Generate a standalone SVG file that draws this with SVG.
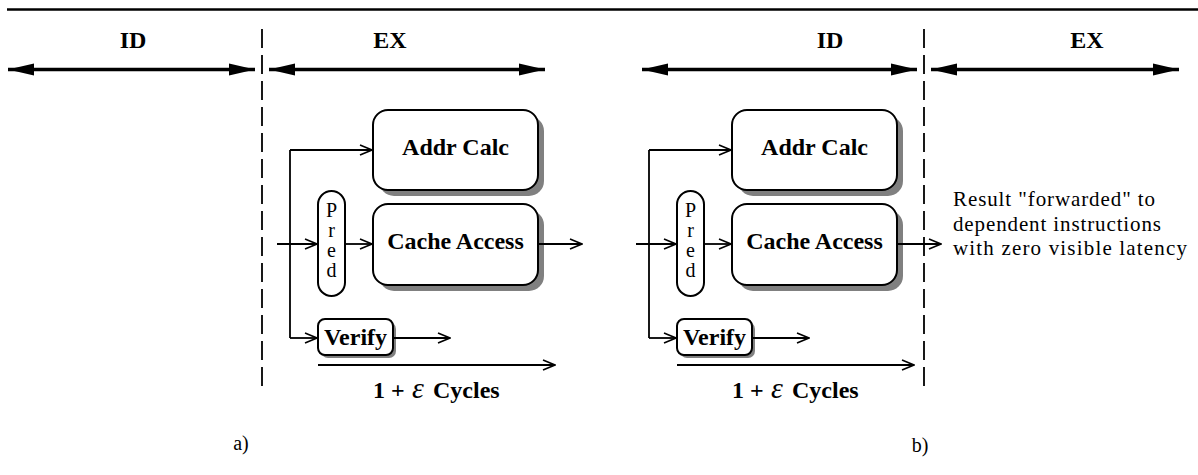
<svg xmlns="http://www.w3.org/2000/svg" width="1198" height="475" viewBox="0 0 1198 475">
<defs>
<marker id="open" markerUnits="userSpaceOnUse" markerWidth="14" markerHeight="12" refX="13" refY="6" orient="auto">
<path d="M1,1 L13,6 L1,11" fill="none" stroke="#000" stroke-width="1.6"/>
</marker>
<marker id="solid" markerUnits="userSpaceOnUse" markerWidth="28" markerHeight="14" refX="26" refY="7" orient="auto-start-reverse">
<path d="M0,1 L26,7 L0,13 z" fill="#000"/>
</marker>
</defs>
<style>
.t{font-family:"Liberation Serif","Times New Roman",serif;fill:#000}
.b{font-weight:bold;font-size:24px}
.r{font-size:21px}
.p{font-size:20px}
.eps{font-weight:normal;font-style:italic;font-size:30px}
.box{fill:#fff;stroke:#000;stroke-width:2}
.sh{fill:#808080}
.ln{fill:none;stroke:#000;stroke-width:1.8}
.hd{fill:none;stroke:#000;stroke-width:3.5;marker-start:url(#solid);marker-end:url(#solid)}
.dash{fill:none;stroke:#000;stroke-width:1.8;stroke-dasharray:19 7}
</style>
<rect width="1198" height="475" fill="#fff"/>
<line x1="7" y1="9.5" x2="1198" y2="9.5" stroke="#000" stroke-width="2.5"/>

<g id="header">
<line class="dash" x1="262" y1="29" x2="262" y2="390"/>
<line class="dash" x1="924" y1="29" x2="924" y2="390"/>
<line class="hd" x1="8" y1="69.5" x2="255" y2="69.5"/>
<line class="hd" x1="269" y1="69.5" x2="545" y2="69.5"/>
<line class="hd" x1="642" y1="69.5" x2="917" y2="69.5"/>
<line class="hd" x1="931" y1="69.5" x2="1179" y2="69.5"/>
<text class="t b" x="133" y="48" text-anchor="middle">ID</text>
<text class="t b" x="390" y="48" text-anchor="middle">EX</text>
<text class="t b" x="830" y="48" text-anchor="middle">ID</text>
<text class="t b" x="1087" y="48" text-anchor="middle">EX</text>
</g>

<g id="a-addr">
<rect class="sh" x="379" y="116" width="165" height="80" rx="15"/>
<rect class="box" x="373" y="110" width="165" height="80" rx="15"/>
<text class="t b" x="455.5" y="155" text-anchor="middle">Addr Calc</text>
</g>
<g id="a-cache">
<rect class="sh" x="379" y="210" width="165" height="81" rx="15"/>
<rect class="box" x="373" y="204" width="165" height="81" rx="15"/>
<text class="t b" x="455.5" y="249" text-anchor="middle">Cache Access</text>
</g>
<g id="a-pred">
<rect class="box" x="318" y="191" width="27" height="105" rx="13.5"/>
<text class="t p" x="331.5" y="217" text-anchor="middle">P</text>
<text class="t p" x="331.5" y="237" text-anchor="middle">r</text>
<text class="t p" x="331.5" y="257" text-anchor="middle">e</text>
<text class="t p" x="331.5" y="277" text-anchor="middle">d</text>
</g>
<g id="a-verify">
<rect class="sh" x="321" y="322" width="75" height="36" rx="7"/>
<rect class="box" x="318" y="319" width="75" height="36" rx="7"/>
<text class="t b" x="355.5" y="345" text-anchor="middle">Verify</text>
</g>
<g id="a-label">
<text class="t b" x="373" y="398">1 + <tspan class="eps" x="412">ε</tspan><tspan x="433">Cycles</tspan></text>
<text class="t p" x="241" y="450" text-anchor="middle">a)</text>
</g>

<g id="b-addr">
<rect class="sh" x="738" y="116" width="165" height="80" rx="15"/>
<rect class="box" x="732" y="110" width="165" height="80" rx="15"/>
<text class="t b" x="814.5" y="155" text-anchor="middle">Addr Calc</text>
</g>
<g id="b-cache">
<rect class="sh" x="738" y="210" width="165" height="81" rx="15"/>
<rect class="box" x="732" y="204" width="165" height="81" rx="15"/>
<text class="t b" x="814.5" y="249" text-anchor="middle">Cache Access</text>
</g>
<g id="b-pred">
<rect class="box" x="677" y="191" width="27" height="105" rx="13.5"/>
<text class="t p" x="690.5" y="217" text-anchor="middle">P</text>
<text class="t p" x="690.5" y="237" text-anchor="middle">r</text>
<text class="t p" x="690.5" y="257" text-anchor="middle">e</text>
<text class="t p" x="690.5" y="277" text-anchor="middle">d</text>
</g>
<g id="b-verify">
<rect class="sh" x="680" y="322" width="75" height="36" rx="7"/>
<rect class="box" x="677" y="319" width="75" height="36" rx="7"/>
<text class="t b" x="714.5" y="345" text-anchor="middle">Verify</text>
</g>
<g id="b-label">
<text class="t b" x="732" y="398">1 + <tspan class="eps" x="771">ε</tspan><tspan x="792">Cycles</tspan></text>
<text class="t p" x="920" y="452" text-anchor="middle">b)</text>
</g>
<g id="note">
<text class="t r" x="953" y="206" textLength="202" lengthAdjust="spacing">Result "forwarded" to</text>
<text class="t r" x="953" y="230.5" textLength="208" lengthAdjust="spacing">dependent instructions</text>
<text class="t r" x="953" y="255" textLength="234" lengthAdjust="spacing">with zero visible latency</text>
</g>

<g id="connectors">
<line class="ln" x1="290" y1="150" x2="290" y2="338"/>
<line class="ln" x1="290" y1="150" x2="372" y2="150" marker-end="url(#open)"/>
<line class="ln" x1="290" y1="338" x2="317" y2="338" marker-end="url(#open)"/>
<line class="ln" x1="277" y1="244" x2="317" y2="244" marker-end="url(#open)"/>
<line class="ln" x1="345" y1="244" x2="372" y2="244" marker-end="url(#open)"/>
<line class="ln" x1="538" y1="244" x2="582" y2="244" marker-end="url(#open)"/>
<line class="ln" x1="393" y1="338" x2="450" y2="338" marker-end="url(#open)"/>
<line class="ln" x1="318" y1="365" x2="555" y2="365" marker-end="url(#open)"/>

<line class="ln" x1="649" y1="150" x2="649" y2="338"/>
<line class="ln" x1="649" y1="150" x2="731" y2="150" marker-end="url(#open)"/>
<line class="ln" x1="649" y1="338" x2="676" y2="338" marker-end="url(#open)"/>
<line class="ln" x1="636" y1="244" x2="676" y2="244" marker-end="url(#open)"/>
<line class="ln" x1="704" y1="244" x2="731" y2="244" marker-end="url(#open)"/>
<line class="ln" x1="897" y1="244" x2="941" y2="244" marker-end="url(#open)"/>
<line class="ln" x1="752" y1="338" x2="809" y2="338" marker-end="url(#open)"/>
<line class="ln" x1="677" y1="365" x2="914" y2="365" marker-end="url(#open)"/>
</g>
</svg>
